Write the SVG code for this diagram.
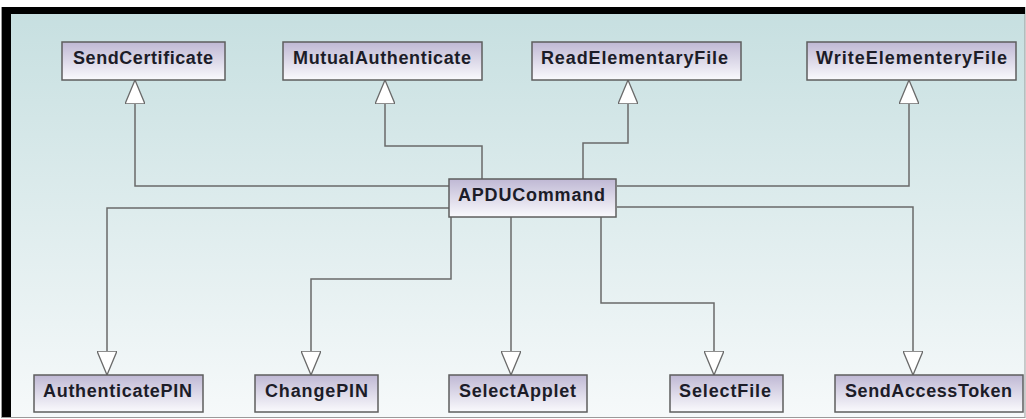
<svg xmlns="http://www.w3.org/2000/svg" width="1026" height="419" viewBox="0 0 1026 419">
  <defs>
    <linearGradient id="bg" x1="0" y1="0" x2="0" y2="1">
      <stop offset="0" stop-color="#c6dfe0"/>
      <stop offset="1" stop-color="#f6f9fa"/>
    </linearGradient>
    <linearGradient id="boxFill" x1="0" y1="0" x2="0" y2="1">
      <stop offset="0" stop-color="#bfb8d4"/>
      <stop offset="1" stop-color="#fafafd"/>
    </linearGradient>
    <marker id="gen" viewBox="0 0 24 20" refX="24" refY="10" markerWidth="24" markerHeight="20" markerUnits="userSpaceOnUse" orient="auto">
      <path d="M0,0 L24,10 L0,20 Z" fill="#ffffff" stroke="#6a6a6a" stroke-width="1.3"/>
    </marker>
  </defs>
  <style>
    .box { fill: url(#boxFill); stroke: #5e5e5e; stroke-width: 1.5; }
    .lbl { font-family: "Liberation Sans", Arial, sans-serif; font-weight: bold; font-size: 18px; fill: #1c1c28; }
    .edge { fill: none; stroke: #6a6a6a; stroke-width: 1.5; marker-end: url(#gen); }
  </style>

  <!-- page frame -->
  <rect x="0" y="0" width="1026" height="419" fill="#ffffff"/>
  <rect x="1.5" y="7.5" width="1023.5" height="410" fill="url(#bg)" stroke="#9a9a9a" stroke-width="1"/>
  <rect x="2" y="7" width="1023" height="7" fill="#000000"/>
  <rect x="2" y="7" width="9" height="410" fill="#000000"/>

  <!-- generalization connectors -->
  <g id="connectors">
    <path class="edge" d="M449,186 H135 V80"/>
    <path class="edge" d="M482,179 V146 H385 V80"/>
    <path class="edge" d="M583,179 V143 H628 V80"/>
    <path class="edge" d="M617,186 H909 V80"/>
    <path class="edge" d="M449,208 H107 V375"/>
    <path class="edge" d="M451,217 V279 H311 V375"/>
    <path class="edge" d="M511,217 V375"/>
    <path class="edge" d="M601,217 V303 H714 V375"/>
    <path class="edge" d="M617,207 H913 V375"/>
  </g>

  <!-- classes -->
  <g id="SendCertificate">
    <rect class="box" x="62" y="42" width="163" height="38"/>
    <text class="lbl" x="73" y="64" textLength="140" lengthAdjust="spacing">SendCertificate</text>
  </g>
  <g id="MutualAuthenticate">
    <rect class="box" x="283" y="42" width="199" height="38"/>
    <text class="lbl" x="293" y="64" textLength="178" lengthAdjust="spacing">MutualAuthenticate</text>
  </g>
  <g id="ReadElementaryFile">
    <rect class="box" x="532" y="42" width="209" height="38"/>
    <text class="lbl" x="541" y="64" textLength="187" lengthAdjust="spacing">ReadElementaryFile</text>
  </g>
  <g id="WriteElementeryFile">
    <rect class="box" x="807" y="42" width="209" height="38"/>
    <text class="lbl" x="816" y="64" textLength="191" lengthAdjust="spacing">WriteElementeryFile</text>
  </g>
  <g id="APDUCommand">
    <rect class="box" x="449" y="179" width="167" height="38"/>
    <text class="lbl" x="458" y="201" textLength="147" lengthAdjust="spacing">APDUCommand</text>
  </g>
  <g id="AuthenticatePIN">
    <rect class="box" x="34" y="375" width="169" height="37"/>
    <text class="lbl" x="43" y="397" textLength="149" lengthAdjust="spacing">AuthenticatePIN</text>
  </g>
  <g id="ChangePIN">
    <rect class="box" x="255" y="375" width="123" height="37"/>
    <text class="lbl" x="265" y="397" textLength="103" lengthAdjust="spacing">ChangePIN</text>
  </g>
  <g id="SelectApplet">
    <rect class="box" x="449" y="375" width="138" height="37"/>
    <text class="lbl" x="459" y="397" textLength="117" lengthAdjust="spacing">SelectApplet</text>
  </g>
  <g id="SelectFile">
    <rect class="box" x="670" y="375" width="113" height="37"/>
    <text class="lbl" x="679" y="397" textLength="92" lengthAdjust="spacing">SelectFile</text>
  </g>
  <g id="SendAccessToken">
    <rect class="box" x="835" y="375" width="188" height="37"/>
    <text class="lbl" x="845" y="397" textLength="167" lengthAdjust="spacing">SendAccessToken</text>
  </g>
</svg>
